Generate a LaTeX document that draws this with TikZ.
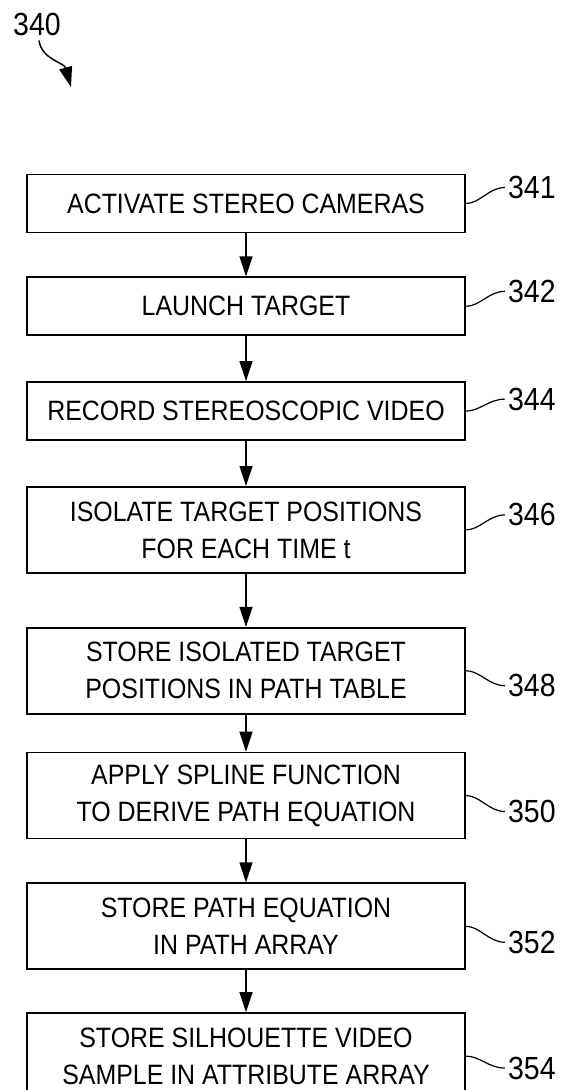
\documentclass[tikz,border=0pt]{standalone}
\usepackage{fontspec}
\setmainfont{Liberation Sans}[FakeStretch=0.89]
\usetikzlibrary{arrows.meta,positioning}

\begin{document}
\begin{tikzpicture}[x=1pt, y=1pt,
      stepbox/.style={draw, line width=1.8pt,
                  minimum width=438pt, minimum height=58pt, inner sep=0pt,
                  font=\fontsize{28}{37}\selectfont, align=center},
      tallbox/.style={stepbox, minimum height=86pt},
      num/.style={font=\fontsize{32}{32}\selectfont, inner sep=3pt},
      arr/.style={-{Triangle[length=20pt,width=13pt]}, line width=1.2pt},
      lead/.style={line width=1.2pt}
  ]
    \useasboundingbox (0,0) rectangle (573,-1090);
    \node[num, anchor=base west, inner sep=0pt] (fig) at (13,-35) {340};
    \coordinate (figtip) at (71,-87);
    \draw[arr, line width=1.5pt] ([shift={(2,-5)}]fig.south) .. controls (42,-60) and (64,-62) .. (figtip);

    \node[stepbox] (s341) at (246,-203.5) {ACTIVATE STEREO CAMERAS};
    \node[stepbox, below=43pt of s341]  (s342) {LAUNCH TARGET};
    \node[stepbox, below=45pt of s342]  (s344) {RECORD STEREOSCOPIC VIDEO};
    \node[tallbox, below=45pt of s344]  (s346) {ISOLATE TARGET POSITIONS\\ FOR EACH TIME t};
    \node[tallbox, below=53pt of s346]  (s348) {STORE ISOLATED TARGET\\ POSITIONS IN PATH TABLE};
    \node[tallbox, below=37pt of s348]  (s350) {APPLY SPLINE FUNCTION\\ TO DERIVE PATH EQUATION};
    \node[tallbox, below=43pt of s350]  (s352) {STORE PATH EQUATION\\ IN PATH ARRAY};
    \node[tallbox, below=42pt of s352]  (s354) {STORE SILHOUETTE VIDEO\\ SAMPLE IN ATTRIBUTE ARRAY};
    \draw[arr] (s341)--(s342); \draw[arr] (s342)--(s344); \draw[arr] (s344)--(s346);
    \draw[arr] (s346)--(s348); \draw[arr] (s348)--(s350); \draw[arr] (s350)--(s352);
    \draw[arr] (s352)--(s354);

    % reference numerals
    \node[num, anchor=west] (n341) at ([xshift=39pt,yshift=16pt]s341.east) {341};
    \node[num, anchor=west] (n342) at ([xshift=39pt,yshift=15pt]s342.east) {342};
    \node[num, anchor=west] (n344) at ([xshift=39pt,yshift=12pt]s344.east) {344};
    \node[num, anchor=west] (n346) at ([xshift=39pt,yshift=15pt]s346.east) {346};
    \node[num, anchor=west] (n348) at ([xshift=39pt,yshift=-15pt]s348.east) {348};
    \node[num, anchor=west] (n350) at ([xshift=39pt,yshift=-16pt]s350.east) {350};
    \node[num, anchor=west] (n352) at ([xshift=39pt,yshift=-16pt]s352.east) {352};
    \node[num, anchor=west] (n354) at ([xshift=39pt,yshift=-12pt]s354.east) {354};
    \draw[lead] (s341.east) .. controls +(14,0) and +(-16,0) .. (n341.west);
    \draw[lead] (s342.east) .. controls +(14,0) and +(-16,0) .. (n342.west);
    \draw[lead] (s344.east) .. controls +(14,0) and +(-16,0) .. (n344.west);
    \draw[lead] (s346.east) .. controls +(14,0) and +(-16,0) .. (n346.west);
    \draw[lead] (s348.east) .. controls +(14,0) and +(-16,0) .. (n348.west);
    \draw[lead] (s350.east) .. controls +(14,0) and +(-16,0) .. (n350.west);
    \draw[lead] (s352.east) .. controls +(14,0) and +(-16,0) .. (n352.west);
    \draw[lead] (s354.east) .. controls +(14,0) and +(-16,0) .. (n354.west);
  \end{tikzpicture}
\end{document}
